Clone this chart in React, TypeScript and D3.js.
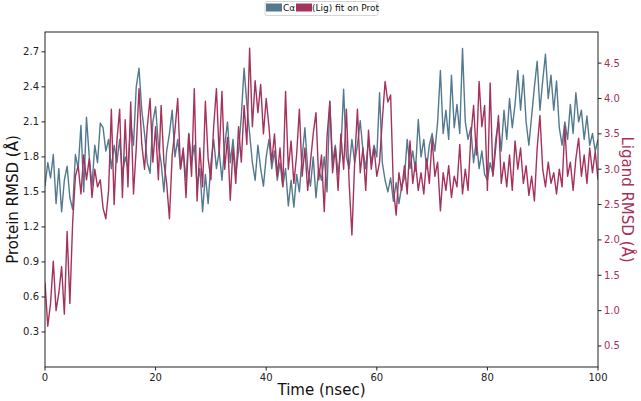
import React from 'react';
import { scaleLinear, line } from 'd3';

// RMSD traces, one sample every 0.5 ns (0 .. 100 ns)
const protRmsd = [
  1.55, 1.75, 1.62, 1.82, 1.4, 1.7, 1.33, 1.6, 1.72, 1.45, 1.35, 1.82, 1.7, 2.07, 1.5, 2.14, 1.8, 1.55, 1.9, 1.75,
  2.09, 2.05, 1.85, 1.95, 1.7, 1.9, 1.75, 1.95, 1.65, 1.8, 1.7, 2.1, 1.9, 2.4, 2.56, 2.2, 2.0, 1.75, 1.66, 2.1,
  2.23, 1.9, 1.75, 1.5, 1.85, 2.0, 2.2, 1.8, 1.95, 1.7, 1.85, 1.6, 2.0, 1.75, 1.9, 1.55, 1.7, 1.33, 1.65, 1.4,
  1.75, 1.95, 1.7, 1.85, 1.6, 1.9, 2.1, 1.75, 1.95, 1.65, 1.85, 2.15, 2.56, 2.25, 2.0, 1.75, 1.6, 1.9, 1.7, 1.55,
  1.8, 1.95, 1.7, 1.85, 1.6, 1.75, 1.55, 1.7, 1.38, 1.6, 1.37, 1.65, 1.5, 1.8, 2.05, 1.7, 1.55, 1.8, 1.45, 1.7,
  1.6, 1.8, 1.5, 2.28, 1.75, 1.9, 1.65, 1.85, 2.38, 1.8, 1.7, 1.95, 1.75, 1.9, 2.11, 1.85, 1.7, 1.95, 1.75, 1.9,
  1.8, 2.35, 1.75, 1.6, 1.5, 1.62, 1.42, 1.58, 1.4, 1.55, 1.62, 1.95, 1.7, 1.85, 1.68, 2.12, 1.8, 1.95, 1.7, 1.9,
  2.0, 1.85, 2.1, 2.54, 2.0, 2.2, 1.95, 2.5, 2.05, 2.25, 2.0, 2.73, 2.1, 1.95, 2.05, 1.75, 1.95, 1.7, 1.85, 1.65,
  1.6, 1.75, 1.65, 1.95, 2.1, 1.85, 2.2, 1.95, 2.3, 2.05, 2.25, 2.54, 2.2, 2.5, 2.1, 1.9, 2.15, 2.4, 2.62, 2.2,
  2.45, 2.68, 2.3, 2.5, 2.2, 2.45, 2.05, 1.9, 2.1, 1.95, 2.25, 2.0, 2.35, 2.1, 2.2, 1.95, 2.15, 1.9, 2.0, 1.85, 1.95,
];

const ligRmsd = [
  1.4, 0.78, 1.1, 1.7, 1.0, 1.25, 1.62, 0.95, 2.12, 1.1, 2.25, 2.9, 3.05, 2.65, 3.2, 2.85, 3.15, 2.6, 3.0, 2.75,
  2.85, 2.45, 2.3, 2.7, 3.85, 2.5, 3.4, 3.85, 2.6, 3.7, 2.75, 3.95, 2.65, 3.3, 4.14, 3.35, 3.0, 3.6, 4.0, 3.1,
  3.6, 2.85, 3.9, 3.1, 2.8, 2.3, 3.2, 3.55, 4.0, 3.0, 3.3, 2.6, 3.5, 2.9, 4.14, 2.55, 3.3, 2.75, 3.96, 3.15,
  2.85, 3.6, 4.14, 3.2, 4.1, 3.0, 3.45, 2.56, 3.3, 2.8, 3.6, 3.1, 3.9, 3.35, 4.71, 3.6, 4.25, 3.8, 4.2, 3.5,
  4.0, 3.6, 3.1, 3.5, 2.9, 3.3, 2.75, 4.1, 3.0, 3.4, 2.8, 3.2, 3.85, 2.9, 3.3, 2.7, 3.1, 3.5, 3.8, 2.85,
  3.2, 2.4, 3.45, 3.95, 2.95, 3.3, 2.7, 3.5, 3.0, 3.85, 2.8, 2.07, 3.1, 3.85, 2.95, 3.3, 2.7, 3.55, 3.0, 3.3,
  2.9, 3.1, 3.7, 4.24, 3.95, 4.05, 2.73, 2.35, 2.95, 2.7, 3.05, 2.65, 3.4, 2.8, 3.1, 2.7, 2.95, 2.65, 3.15, 2.8,
  3.43, 2.9, 3.1, 2.41, 2.95, 2.7, 3.05, 2.6, 2.9, 2.75, 3.35, 2.65, 3.0, 2.7, 3.45, 3.9, 3.2, 4.24, 3.6, 3.9,
  2.7, 4.22, 2.9, 3.3, 3.76, 2.8, 3.1, 2.75, 3.2, 2.7, 3.4, 3.0, 3.3, 2.8, 3.05, 2.63, 2.9, 2.55, 3.3, 3.76,
  3.0, 2.75, 3.1, 2.8, 2.95, 2.65, 3.0, 2.75, 3.6, 2.9, 3.1, 2.7, 3.15, 3.44, 2.9, 3.2, 2.8, 3.3, 2.95, 3.25, 2.85,
];

const timeStep = 0.5;
const timeTicks = [0, 20, 40, 60, 80, 100];
const protTicks = [0.3, 0.6, 0.9, 1.2, 1.5, 1.8, 2.1, 2.4, 2.7];
const ligTicks = [0.5, 1.0, 1.5, 2.0, 2.5, 3.0, 3.5, 4.0, 4.5];
const seriesNames = ['Cα', '(Lig) fit on Prot'];

const W = 641;
const H = 401;
const m = { left: 45, right: 598, top: 32, bottom: 367 };
const blue = '#52798f';
const red = '#a5325c';
const font = 'DejaVu Sans, sans-serif';

export default function App() {
  const x = scaleLinear().domain([0, 100]).range([m.left, m.right]);
  const yL = scaleLinear().domain([0, 2.87]).range([m.bottom, m.top]);
  const yR = scaleLinear().domain([0.203, 4.94]).range([m.bottom, m.top]);

  const protLine = line<number>()
    .x((d, i) => x(i * timeStep))
    .y((d) => yL(d));
  const ligLine = line<number>()
    .x((d, i) => x(i * timeStep))
    .y((d) => yR(d));

  const midY = (m.top + m.bottom) / 2;

  return (
    <svg width={W} height={H} style={{ position: 'absolute', left: 0, top: 0, background: '#fff' }} fontFamily={font}>
      <clipPath id="plot">
        <rect x={m.left} y={m.top} width={m.right - m.left} height={m.bottom - m.top} />
      </clipPath>
      <g clipPath="url(#plot)">
        <path d={protLine(protRmsd) || ''} fill="none" stroke={blue} strokeWidth={1.4} strokeLinejoin="round" />
        <path d={ligLine(ligRmsd) || ''} fill="none" stroke={red} strokeWidth={1.4} strokeLinejoin="round" />
      </g>

      {/* frame */}
      <rect x={m.left} y={m.top} width={m.right - m.left} height={m.bottom - m.top} fill="none" stroke="#222" strokeWidth={1} />

      {/* x axis */}
      {timeTicks.map((t) => (
        <g key={'x' + t}>
          <line x1={x(t)} x2={x(t)} y1={m.bottom} y2={m.bottom + 3.5} stroke="#222" />
          <text x={x(t)} y={m.bottom + 14} fontSize={10} textAnchor="middle" fill="#222">{t}</text>
        </g>
      ))}
      <text x={(m.left + m.right) / 2} y={H - 6} fontSize={15} textAnchor="middle" fill="#111">Time (nsec)</text>

      {/* left axis */}
      {protTicks.map((t) => (
        <g key={'l' + t}>
          <line x1={m.left - 3.5} x2={m.left} y1={yL(t)} y2={yL(t)} stroke="#222" />
          <text x={m.left - 6} y={yL(t) + 3.5} fontSize={10} textAnchor="end" fill="#222">{t.toFixed(1)}</text>
        </g>
      ))}
      <text transform={`translate(18,${midY}) rotate(-90)`} fontSize={15} textAnchor="middle" fill="#111">Protein RMSD (Å)</text>

      {/* right axis */}
      {ligTicks.map((t) => (
        <g key={'r' + t}>
          <line x1={m.right} x2={m.right + 3.5} y1={yR(t)} y2={yR(t)} stroke="#222" />
          <text x={m.right + 6} y={yR(t) + 3.5} fontSize={10} textAnchor="start" fill={red}>{t.toFixed(1)}</text>
        </g>
      ))}
      <text transform={`translate(622,${midY}) rotate(90)`} fontSize={15} textAnchor="middle" fill={red}>Ligand RMSD (Å)</text>

      {/* legend */}
      <rect x={265} y={1.5} width={113} height={14} rx={2} fill="#fff" stroke="#ccc" strokeWidth={0.8} />
      <rect x={266} y={3.5} width={16} height={8} fill={blue} />
      <text x={283} y={11} fontSize={9} fill="#111">{seriesNames[0]}</text>
      <rect x={296} y={3.5} width={16} height={8} fill={red} />
      <text x={312} y={11} fontSize={9} fill="#111">{seriesNames[1]}</text>
    </svg>
  );
}
